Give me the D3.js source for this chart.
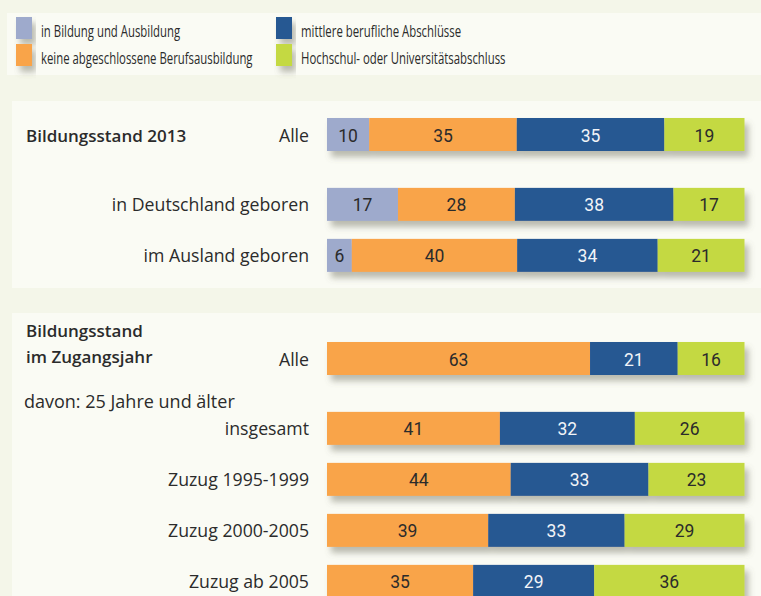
<!DOCTYPE html>
<html>
<head>
<meta charset="utf-8">
<script src="https://cdn.jsdelivr.net/npm/d3@7"></script>
<style>
  html, body { margin: 0; padding: 0; background: #f4f6e9; }
  svg { display: block; }
</style>
</head>
<body>
<div id="chart"></div>
<script>
// Legend / series
const seriesNames = ['in Bildung und Ausbildung', 'keine abgeschlossene Berufsausbildung', 'mittlere berufliche Abschlüsse', 'Hochschul- oder Universitätsabschluss'];
const seriesColors = ['#9eaacc', '#f9a44a', '#285892', '#c4d942'];
const labelColors = ['#2b2b2b', '#2b2b2b', '#f2f4f8', '#2b2b2b'];

// Section 1: Bildungsstand 2013
const cats1 = ['Alle', 'in Deutschland geboren', 'im Ausland geboren'];
const inBildung1 = [10, 17, 6];
const keine1 = [35, 28, 40];
const mittlere1 = [35, 38, 34];
const hoch1 = [19, 17, 21];

// Section 2: Bildungsstand im Zugangsjahr
const cats2 = ['Alle', 'insgesamt', 'Zuzug 1995-1999', 'Zuzug 2000-2005', 'Zuzug ab 2005'];
const inBildung2 = [0, 0, 0, 0, 0];
const keine2 = [63, 41, 44, 39, 35];
const mittlere2 = [21, 32, 33, 33, 29];
const hoch2 = [16, 26, 23, 29, 36];

const W = 761, H = 596;
const labelFont = "'Open Sans', 'DejaVu Sans', sans-serif";
const valueFont = "Roboto, 'DejaVu Sans', sans-serif";

const svg = d3.select('#chart').append('svg')
  .attr('width', W)
  .attr('height', H);

const defs = svg.append('defs');
const shadow = defs.append('filter')
  .attr('id', 'shadow')
  .attr('x', '-10%').attr('y', '-30%')
  .attr('width', '130%').attr('height', '190%');
shadow.append('feDropShadow')
  .attr('dx', 4).attr('dy', 6)
  .attr('stdDeviation', 3)
  .attr('flood-color', '#6b6b5a')
  .attr('flood-opacity', 0.45);

svg.append('rect').attr('width', W).attr('height', H).attr('fill', '#f4f6e9');

// panels
svg.append('rect').attr('x', 7).attr('y', 13).attr('width', W - 7).attr('height', 62).attr('fill', '#fafbf4');
svg.append('rect').attr('x', 12).attr('y', 101).attr('width', W - 12).attr('height', 187).attr('fill', '#fafbf4');
svg.append('rect').attr('x', 12).attr('y', 313).attr('width', W - 12).attr('height', H - 313).attr('fill', '#fafbf4');

// Legend (condensed look via horizontal scaling)
const legendPos = [[16, 17], [16, 44], [276, 17], [276, 44]];
const legend = svg.append('g');
seriesNames.forEach((name, i) => {
  const [lx, ly] = legendPos[i];
  legend.append('rect')
    .attr('x', lx).attr('y', ly)
    .attr('width', 16).attr('height', 22)
    .attr('fill', seriesColors[i])
    .attr('filter', 'url(#shadow)');
  legend.append('text')
    .attr('transform', `translate(${lx + 25},${ly + 19.5}) scale(0.69,1)`)
    .style('font-family', labelFont)
    .style('font-size', '16.5px')
    .style('fill', '#2b2b2b')
    .text(name);
});

const x = d3.scaleLinear().domain([0, 100]).range([327, 744.5]);
const barH = 33;

function drawSection(cats, series, top) {
  // first row separated by a larger gap
  const y = d3.scaleLinear().domain([0, 1]).range([top, top + 51]);
  const rowY = i => i === 0 ? y(0) : y(i + 0.37);
  const g = svg.append('g');

  cats.forEach((cat, i) => {
    const vals = series.map(s => s[i]);
    const total = d3.sum(vals);
    const xs = d3.scaleLinear().domain([0, total]).range(x.range());
    const y0 = rowY(i);

    g.append('text')
      .attr('x', 309)
      .attr('y', y0 + barH / 2 + 7)
      .attr('text-anchor', 'end')
      .style('font-family', labelFont)
      .style('font-size', '17.7px')
      .style('fill', '#2b2b2b')
      .text(cat);

    const bar = g.append('g').attr('filter', 'url(#shadow)');
    let acc = 0;
    vals.forEach((v, k) => {
      if (!v) return;
      bar.append('rect')
        .attr('x', xs(acc))
        .attr('y', y0)
        .attr('width', xs(acc + v) - xs(acc))
        .attr('height', barH)
        .attr('fill', seriesColors[k]);
      acc += v;
    });
    acc = 0;
    vals.forEach((v, k) => {
      if (!v) return;
      g.append('text')
        .attr('x', (xs(acc) + xs(acc + v)) / 2)
        .attr('y', y0 + barH / 2 + 7)
        .attr('text-anchor', 'middle')
        .style('font-family', valueFont)
        .style('font-size', '17.5px')
        .style('fill', labelColors[k])
        .text(v);
      acc += v;
    });
  });
}

drawSection(cats1, [inBildung1, keine1, mittlere1, hoch1], 118);
drawSection(cats2, [inBildung2, keine2, mittlere2, hoch2], 342);

// Headings
svg.append('text')
  .attr('x', 26).attr('y', 142)
  .style('font-family', labelFont)
  .style('font-size', '17px')
  .style('font-weight', '600')
  .style('fill', '#2b2b2b')
  .text('Bildungsstand 2013');

const h2 = svg.append('text')
  .style('font-family', labelFont)
  .style('font-size', '17px')
  .style('font-weight', '600')
  .style('fill', '#2b2b2b');
h2.append('tspan').attr('x', 26).attr('y', 337).text('Bildungsstand');
h2.append('tspan').attr('x', 26).attr('y', 363).text('im Zugangsjahr');

svg.append('text')
  .attr('x', 24).attr('y', 408)
  .style('font-family', labelFont)
  .style('font-size', '18px')
  .style('fill', '#2b2b2b')
  .text('davon: 25 Jahre und älter');
</script>
</body>
</html>
